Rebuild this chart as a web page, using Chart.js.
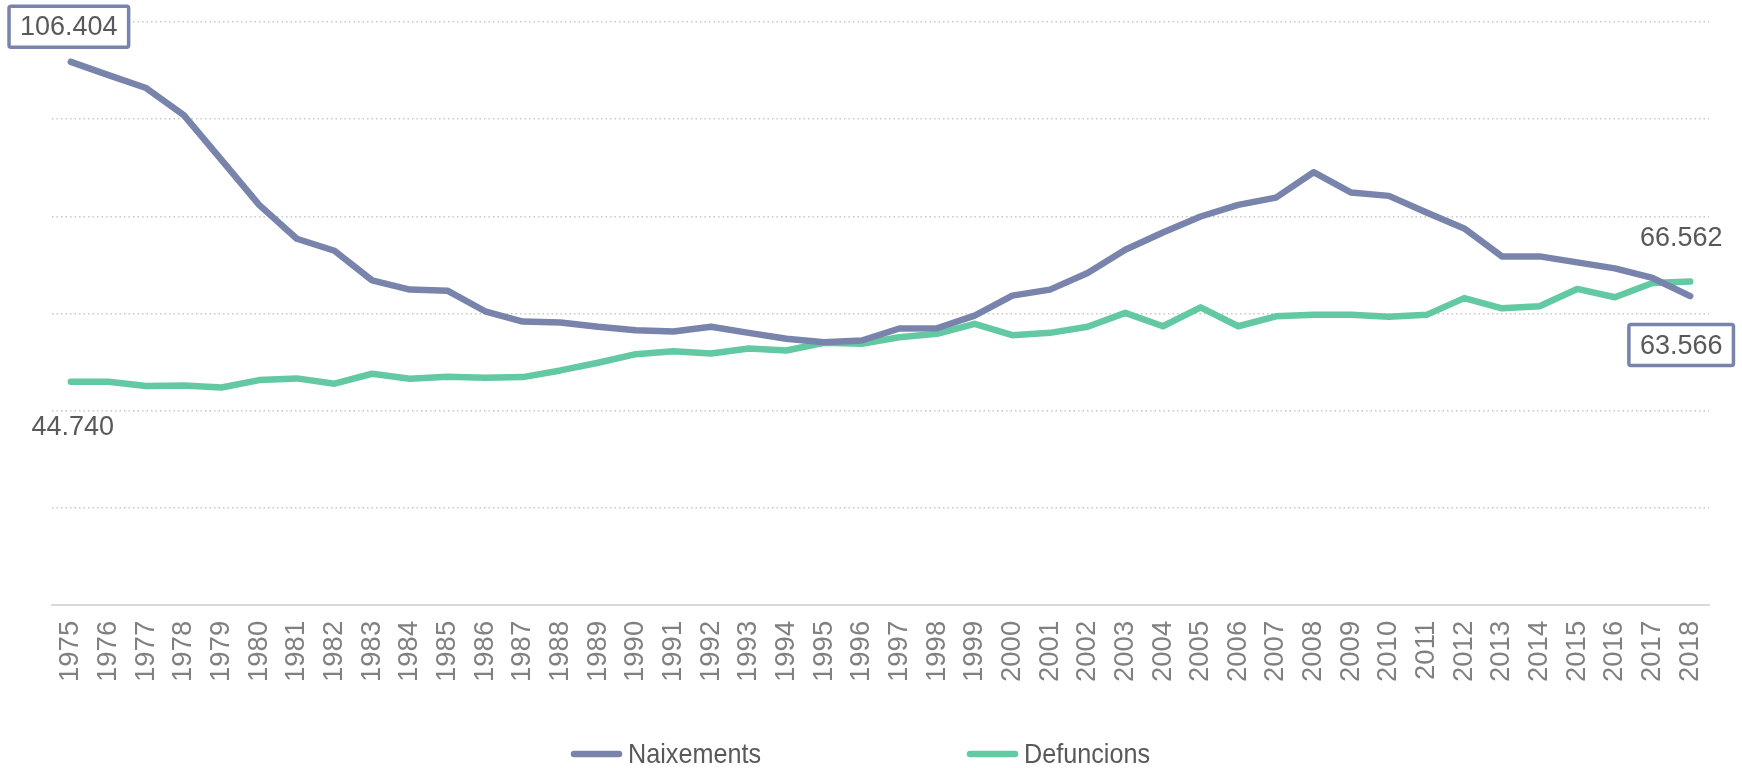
<!DOCTYPE html>
<html>
<head>
<meta charset="utf-8">
<script src="https://cdn.jsdelivr.net/npm/chart.js@4.4.1/dist/chart.umd.min.js"></script>
<style>
  html, body { margin: 0; padding: 0; background: #fff; }
  #wrap { width: 1742px; height: 768px; position: relative; }
</style>
</head>
<body>
<div id="wrap"><canvas id="naixChart"></canvas></div>
<script>
// data
const years = ["1975","1976","1977","1978","1979","1980","1981","1982","1983","1984",
  "1985","1986","1987","1988","1989","1990","1991","1992","1993","1994",
  "1995","1996","1997","1998","1999","2000","2001","2002","2003","2004",
  "2005","2006","2007","2008","2009","2010","2011","2012","2013","2014",
  "2015","2016","2017","2018"];

const naixements = [111800, 109050, 106404, 100840, 91600, 82350, 75370, 72900, 66800, 64900,
  64690, 60440, 58330, 58120, 57240, 56540, 56270, 57240, 56000, 54770,
  54070, 54420, 56890, 56950, 59560, 63670, 64900, 68330, 73110, 76670,
  79950, 82350, 83850, 89070, 84880, 84200, 80770, 77490, 71740, 71740,
  70500, 69270, 67300, 63566];

const defuncions = [45940, 45940, 45040, 45180, 44740, 46270, 46620, 45530, 47580, 46560,
  46970, 46760, 46890, 48260, 49840, 51610, 52230, 51750, 52780, 52370,
  53950, 53750, 55100, 55800, 57850, 55510, 56000, 57240, 60110, 57360,
  61260, 57360, 59410, 59700, 59700, 59290, 59700, 63150, 61060, 61470,
  65040, 63320, 66270, 66562];

const seriesNames = ["Naixements", "Defuncions"];

// text labels shown next to some points: [dataset, point, text]
const pointLabels = [
  [0, 0, "106.404"],
  [1, 0, "44.740"],
  [1, 43, "66.562"],
  [0, 43, "63.566"]
];

const BLUE = "#7884ab";
const GREEN = "#62c9a3";
const LABEL_FONT = '27px "Liberation Sans", Arial, sans-serif';

// label placement relative to its point
const labelStyle = [
  { dx: -2, dy: -35, box: true },
  { dx: 2, dy: 45, box: false },
  { dx: -9, dy: -44, box: false },
  { dx: -9, dy: 49, box: true }
];

const pointLabelPlugin = {
  id: "pointLabels",
  afterDatasetsDraw(chart) {
    const ctx = chart.ctx;
    ctx.save();
    ctx.font = LABEL_FONT;
    ctx.textAlign = "center";
    ctx.textBaseline = "middle";
    pointLabels.forEach(([ds, idx, text], i) => {
      const pt = chart.getDatasetMeta(ds).data[idx];
      const st = labelStyle[i];
      const x = pt.x + st.dx;
      const y = pt.y + st.dy;
      if (st.box) {
        const w = ctx.measureText(text).width + 22;
        const h = 41;
        ctx.fillStyle = "#fff";
        ctx.strokeStyle = chart.data.datasets[ds].borderColor;
        ctx.lineWidth = 3.5;
        ctx.beginPath();
        ctx.roundRect(x - w / 2, y - h / 2, w, h, 2);
        ctx.fill();
        ctx.stroke();
      }
      ctx.fillStyle = "#595959";
      ctx.fillText(text, x, y + 1);
    });
    ctx.restore();
  }
};

// legend at the bottom, drawn by hand so the spacing matches
const legendPlugin = {
  id: "bottomLegend",
  afterDraw(chart) {
    const ctx = chart.ctx;
    ctx.save();
    ctx.font = '28px "Liberation Sans", Arial, sans-serif';
    ctx.textBaseline = "middle";
    const starts = [571, 967];
    const y = 754;
    chart.data.datasets.forEach((d, i) => {
      const x = starts[i];
      ctx.strokeStyle = d.borderColor;
      ctx.lineWidth = 6.5;
      ctx.lineCap = "round";
      ctx.beginPath();
      ctx.moveTo(x + 3, y);
      ctx.lineTo(x + 48, y);
      ctx.stroke();
      // the legend font is a condensed face: squeeze it sideways
      ctx.save();
      ctx.translate(x + 57, y + 1);
      ctx.scale(0.9, 1);
      ctx.fillStyle = "#595959";
      ctx.fillText(d.label, 0, 0);
      ctx.restore();
    });
    ctx.restore();
  }
};

const ctx = document.getElementById("naixChart");

new Chart(ctx, {
  type: "line",
  data: {
    labels: years,
    datasets: [
      {
        label: seriesNames[0],
        data: naixements,
        borderColor: BLUE,
        backgroundColor: BLUE,
        borderWidth: 6.5,
        borderCapStyle: "round",
        borderJoinStyle: "round",
        pointRadius: 0,
        tension: 0
      },
      {
        label: seriesNames[1],
        data: defuncions,
        borderColor: GREEN,
        backgroundColor: GREEN,
        borderWidth: 6.5,
        borderCapStyle: "round",
        borderJoinStyle: "round",
        pointRadius: 0,
        tension: 0
      }
    ]
  },
  options: {
    responsive: true,
    maintainAspectRatio: false,
    animation: false,
    layout: { padding: { left: 52, right: 33, top: 22, bottom: 70 } },
    plugins: {
      legend: { display: false },
      tooltip: { enabled: false }
    },
    scales: {
      x: {
        offset: true,
        grid: { display: false, drawTicks: false },
        border: { display: true, color: "#d9d9d9", width: 2 },
        ticks: {
          color: "#808080",
          font: { family: '"Liberation Sans", Arial, sans-serif', size: 27.5 },
          minRotation: 90,
          maxRotation: 90,
          autoSkip: false,
          padding: 16
        }
      },
      y: {
        min: 0,
        max: 120000,
        ticks: { display: false, stepSize: 20000 },
        grid: { color: "#c8c8c8", lineWidth: 1.5, drawTicks: false },
        border: { display: false, dash: [1.5, 3] }
      }
    }
  },
  plugins: [pointLabelPlugin, legendPlugin]
});
</script>
</body>
</html>
